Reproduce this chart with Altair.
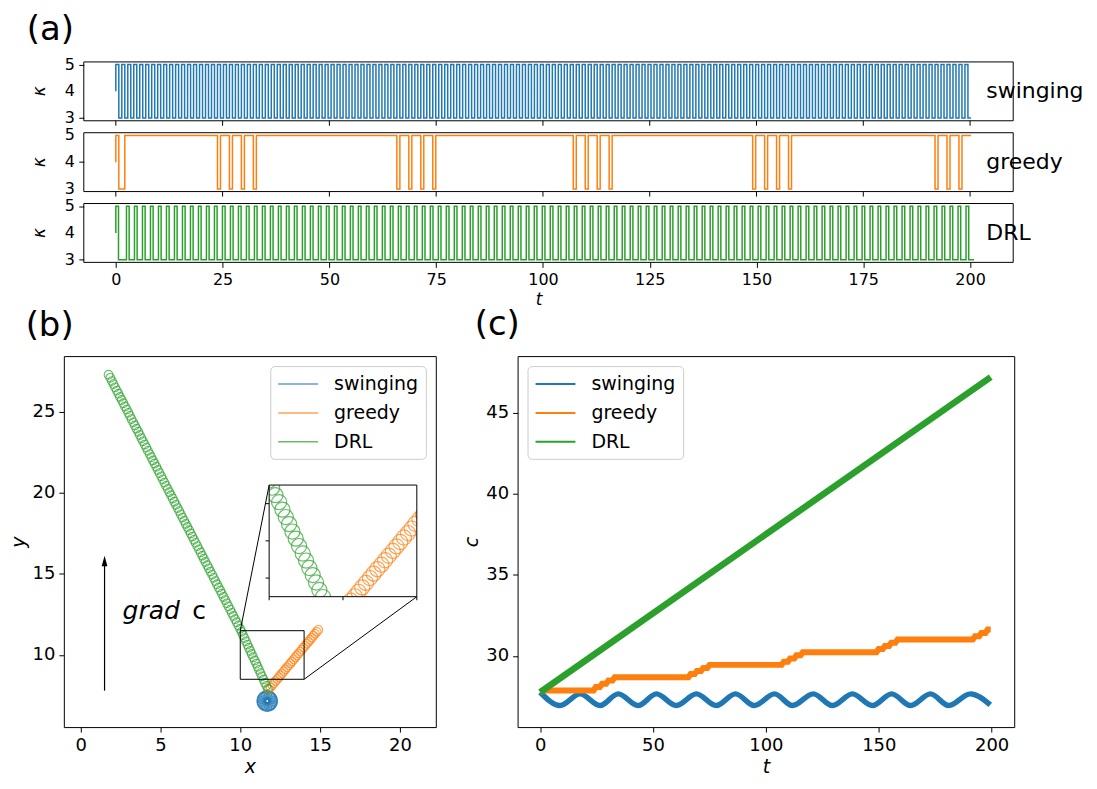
import altair as alt
import pandas as pd

FONT = "DejaVu Sans"
SERIES = ["swinging", "greedy", "DRL"]
COLORS = ["#1f77b4", "#ff7f0e", "#2ca02c"]

# ---------------- (a) kappa(t) step signals ----------------
DT_SWING = 0.7
DT_GREEDY = 0.7
DT_DRL = 0.624
swing_kappa = (
    "4"
    "5353535353535353535353"
    "5353535353535353535353"
    "5353535353535353535353"
    "5353535353535353535353"
    "5353535353535353535353"
    "5353535353535353535353"
    "5353535353535353535353"
    "5353535353535353535353"
    "5353535353535353535353"
    "5353535353535353535353"
    "5353535353535353535353"
    "5353535353535353535353"
    "5353535353535353535353"
)
greedy_runs = [(4, 1), (5, 1), (3, 2), (5, 31),
               (3, 1), (5, 3), (3, 1), (5, 3), (3, 1), (5, 3), (3, 1), (5, 47),
               (3, 1), (5, 3), (3, 1), (5, 3), (3, 1), (5, 3), (3, 1), (5, 46),
               (3, 1), (5, 3), (3, 1), (5, 3), (3, 1), (5, 3), (3, 1), (5, 47),
               (3, 1), (5, 3), (3, 1), (5, 3), (3, 1), (5, 3), (3, 1), (5, 48),
               (3, 1), (5, 3), (3, 1), (5, 3), (3, 1), (5, 3)]
drl_kappa = (
    "45333"
    "533533533533533533"
    "533533533533533533"
    "533533533533533533"
    "533533533533533533"
    "533533533533533533"
    "533533533533533533"
    "533533533533533533"
    "533533533533533533"
    "533533533533533533"
    "533533533533533533"
    "533533533533533533"
    "533533533533533533"
    "533533533533533533"
    "533533533533533533"
    "533533533533533533"
    "533533533533533533"
    "533533533533533533"
    "533533533533"
)
A_FRAME_T = [-7.5, 210.1]      # visible t-range of each (a) panel
A_T_LEFT = -12.17              # left edge of the (a) layout cell (aligned with panel b)
A_K_RANGE = [2.9, 5.1]
PANEL_STEP = 2.647             # kappa units from one (a) panel to the next (incl. gap)
A_T_TICKS = [0, 25, 50, 75, 100, 125, 150, 175, 200]
A_K_TICKS = [3, 4, 5]
A_K_LABEL_T = -9.6
A_SIDE_T = 203.8
A_KAPPA_TITLE_T = -17.7
A_LABEL = ("(a)", -15.3, 6.29)

# ---------------- (b) trajectories ----------------
swing_x = [12.06, 12.01, 11.88, 11.69, 11.50, 11.37, 11.32, 11.37, 11.50, 11.69, 11.88, 12.01,
           12.05, 11.95, 11.79, 11.59, 11.43, 11.33, 11.33, 11.43, 11.59, 11.79, 11.95, 12.05]
swing_y = [7.16, 7.35, 7.48, 7.53, 7.48, 7.35, 7.16, 6.97, 6.84, 6.79, 6.84, 6.97,
           7.26, 7.42, 7.52, 7.52, 7.42, 7.26, 7.06, 6.90, 6.80, 6.80, 6.90, 7.06]
greedy_x = [11.80, 11.90, 12.01, 12.11, 12.21, 12.32, 12.42, 12.52, 12.62, 12.73, 12.83,
            12.93, 13.04, 13.14, 13.24, 13.35, 13.45, 13.55, 13.65, 13.76, 13.86, 13.96,
            14.07, 14.17, 14.27, 14.38, 14.48, 14.58, 14.68, 14.79, 14.89]
greedy_y = [7.90, 8.02, 8.14, 8.27, 8.39, 8.51, 8.63, 8.75, 8.87, 9.00, 9.12, 9.24, 9.36,
            9.48, 9.60, 9.73, 9.85, 9.97, 10.09, 10.21, 10.33, 10.46, 10.58, 10.70, 10.82,
            10.94, 11.06, 11.19, 11.31, 11.43, 11.55]
drl_x = [11.73, 11.64, 11.55, 11.46, 11.36, 11.27, 11.18, 11.09, 11.00, 10.91,
         10.81, 10.72, 10.63, 10.54, 10.45, 10.36, 10.27, 10.17, 10.08, 9.99,
         9.88, 9.78, 9.68, 9.57, 9.47, 9.37, 9.26, 9.16, 9.06, 8.96,
         8.85, 8.75, 8.65, 8.54, 8.44, 8.34, 8.24, 8.13, 8.03, 7.93,
         7.82, 7.72, 7.62, 7.52, 7.41, 7.31, 7.21, 7.10, 7.00, 6.90,
         6.80, 6.69, 6.59, 6.49, 6.38, 6.28, 6.18, 6.08, 5.97, 5.87,
         5.77, 5.66, 5.56, 5.46, 5.35, 5.25, 5.15, 5.05, 4.94, 4.84,
         4.74, 4.63, 4.53, 4.43, 4.33, 4.22, 4.12, 4.02, 3.91, 3.81,
         3.71, 3.61, 3.50, 3.40, 3.30, 3.19, 3.09, 2.99, 2.89, 2.78,
         2.68, 2.58, 2.47, 2.37, 2.27, 2.16, 2.06, 1.96, 1.86, 1.75]
drl_y = [7.90, 8.10, 8.29, 8.49, 8.68, 8.88, 9.08, 9.27, 9.47, 9.66,
         9.86, 10.06, 10.25, 10.45, 10.64, 10.84, 11.04, 11.23, 11.43, 11.62,
         11.82, 12.02, 12.21, 12.41, 12.60, 12.80, 13.00, 13.19, 13.39, 13.58,
         13.78, 13.98, 14.17, 14.37, 14.56, 14.76, 14.96, 15.15, 15.35, 15.54,
         15.74, 15.94, 16.13, 16.33, 16.52, 16.72, 16.92, 17.11, 17.31, 17.50,
         17.70, 17.90, 18.09, 18.29, 18.48, 18.68, 18.88, 19.07, 19.27, 19.46,
         19.66, 19.86, 20.05, 20.25, 20.44, 20.64, 20.84, 21.03, 21.23, 21.42,
         21.62, 21.82, 22.01, 22.21, 22.40, 22.60, 22.80, 22.99, 23.19, 23.38,
         23.58, 23.78, 23.97, 24.17, 24.36, 24.56, 24.76, 24.95, 25.15, 25.34,
         25.54, 25.74, 25.93, 26.13, 26.32, 26.52, 26.72, 26.91, 27.11, 27.30]
B_X_DOMAIN = [-1.05, 22.25]
B_Y_DOMAIN = [5.55, 28.45]
B_X_TICKS = [0, 5, 10, 15, 20]
B_Y_TICKS = [10, 15, 20, 25]
ZOOM_X = [10.0, 14.0]          # inset data range
ZOOM_Y = [8.5, 11.5]
INSET_X = [11.81, 21.06]       # inset box, in main-plot data units
INSET_Y = [13.60, 20.49]
INSET_X_TICKS = [10, 12, 14]
INSET_Y_TICKS = [9, 10, 11]
ARROW_X = 1.5
ARROW_Y = [7.8, 15.8]
GRAD_TEXT = [("grad", 2.63, 12.71, "italic"), ("c", 7.0, 12.71, "normal")]
B_LABEL = ("(b)", -1.94, 30.3)

# ---------------- (c) c(t) ----------------
blue_t = [0.0, 8.8, 17.7, 26.5, 34.6, 43.4, 51.5, 60.3, 69.2, 78.0, 86.5, 94.9,
          103.8, 111.8, 121.0, 129.5, 138.3, 147.2, 155.7, 164.1, 172.9, 181.0, 190.6, 199.4]
blue_c = [27.75, 26.93, 27.65, 26.93, 27.65, 26.93, 27.65, 26.93, 27.65, 26.93, 27.65, 26.93,
          27.65, 26.93, 27.65, 26.93, 27.65, 26.93, 27.65, 26.93, 27.65, 26.93, 27.65, 26.97]
orange_t = [0.0, 1.5, 23.65, 24.65, 26.45, 27.45, 29.25, 30.25, 32.05, 33.05,
            65.65, 66.65, 68.45, 69.45, 71.25, 72.25, 74.05, 75.05,
            106.95, 107.95, 109.75, 110.75, 112.55, 113.55, 115.35, 116.35,
            148.95, 149.95, 151.75, 152.75, 154.55, 155.55, 157.35, 158.35,
            191.65, 192.65, 194.45, 195.45, 197.25, 198.25, 199.6]
orange_c = [27.75, 27.86, 27.86, 28.07, 28.07, 28.27, 28.27, 28.48, 28.48, 28.68,
            28.68, 28.87, 28.87, 29.06, 29.06, 29.25, 29.25, 29.44,
            29.44, 29.64, 29.64, 29.83, 29.83, 30.03, 30.03, 30.22,
            30.22, 30.42, 30.42, 30.61, 30.61, 30.81, 30.81, 31.0,
            31.0, 31.2, 31.2, 31.41, 31.41, 31.62, 31.62]
green_t = [0.0, 84.6, 199.6]
green_c = [27.75, 36.0, 47.2]
C_T_DOMAIN = [-10, 210]
C_C_DOMAIN = [25.6, 48.5]
C_T_TICKS = [0, 50, 100, 150, 200]
C_C_TICKS = [30, 35, 40, 45]
C_LABEL = ("(c)", -19.0, 50.4)

A_W = 952
A_PANEL_H = 59
A_H = round(A_PANEL_H * (A_K_RANGE[1] - A_K_RANGE[0] + 2 * PANEL_STEP) / (A_K_RANGE[1] - A_K_RANGE[0]))
B_W, B_H = 373, 372
C_W, C_H = 498, 372

color_scale = alt.Scale(domain=SERIES, range=COLORS)


def lin(domain):
    return alt.Scale(domain=domain, nice=False, zero=False)


def axis(values, title, labels=True, size=18, tsize=19, italic=True, **extra):
    kw = dict(values=values, title=title, labels=labels, tickSize=5, tickWidth=1,
              tickColor="black", labelColor="black", labelFontSize=size,
              titleFontSize=tsize, titleFontWeight="normal", titleColor="black",
              labelPadding=4, grid=False, domain=False)
    if italic:
        kw["titleFontStyle"] = "italic"
    kw.update(extra)
    return alt.Axis(**kw)


# ---------- panel (a): three stacked strips in one view ----------
ta = lin([A_T_LEFT, A_FRAME_T[1]])
ka = lin([A_K_RANGE[0], A_K_RANGE[1] + 2 * PANEL_STEP])
greedy_seq = "".join(str(v) * n for v, n in greedy_runs)
strips = [("swinging", swing_kappa, DT_SWING, COLORS[0], 2 * PANEL_STEP),
          ("greedy", greedy_seq, DT_GREEDY, COLORS[1], PANEL_STEP),
          ("DRL", drl_kappa, DT_DRL, COLORS[2], 0.0)]
k_ticks = [v + off for *_, off in strips for v in A_K_TICKS]

a_layers = []
for i, (name, seq, dt, col, off) in enumerate(strips):
    df = pd.DataFrame({"t": [j * dt for j in range(len(seq))],
                       "k": [int(ch) + off for ch in seq]})
    enc = dict(x=alt.X("t:Q", scale=ta, axis=axis(A_T_TICKS, "t", size=16, tsize=17,
                                                  labelOverlap=False)),
               y=alt.Y("k:Q", scale=ka, axis=axis(k_ticks, "", labels=False, offset=-20)))
    a_layers.append(alt.Chart(df).mark_line(interpolate="step-before", color=col,
                                            strokeWidth=1.5).encode(**enc))

frames = pd.DataFrame({"t": [A_FRAME_T[0]] * 3, "t2": [A_FRAME_T[1]] * 3,
                       "k": [A_K_RANGE[0] + s[4] for s in strips],
                       "k2": [A_K_RANGE[1] + s[4] for s in strips]})
a_layers.append(alt.Chart(frames).mark_rect(fill="transparent", stroke="black",
                                            strokeWidth=1).encode(
    x=alt.X("t:Q", scale=ta), x2="t2:Q", y=alt.Y("k:Q", scale=ka), y2="k2:Q"))
tick_len = 5 * (A_K_RANGE[1] - A_K_RANGE[0]) / A_PANEL_H
trows = [{"t": t, "k": A_K_RANGE[0] + off, "k2": A_K_RANGE[0] + off - tick_len}
         for *_, off in strips[:2] for t in A_T_TICKS]
a_layers.append(alt.Chart(pd.DataFrame(trows)).mark_rule(color="black", strokeWidth=1).encode(
    x=alt.X("t:Q", scale=ta), y=alt.Y("k:Q", scale=ka), y2="k2:Q"))
klabels = pd.DataFrame({"t": [A_K_LABEL_T] * 9,
                        "k": [v + s[4] for s in strips for v in A_K_TICKS],
                        "s": [str(v) for s in strips for v in A_K_TICKS]})
a_layers.append(alt.Chart(klabels).mark_text(align="right", baseline="middle", fontSize=16,
                                             color="black").encode(
    x=alt.X("t:Q", scale=ta), y=alt.Y("k:Q", scale=ka), text="s:N"))
side = pd.DataFrame({"t": [A_SIDE_T] * 3, "k": [4.0 + s[4] for s in strips],
                     "s": [s[0] for s in strips]})
a_layers.append(alt.Chart(side).mark_text(align="left", baseline="middle", fontSize=22,
                                          color="black").encode(
    x=alt.X("t:Q", scale=ta), y=alt.Y("k:Q", scale=ka), text="s:N"))
ktitles = pd.DataFrame({"t": [A_KAPPA_TITLE_T] * 3, "k": [4.0 + s[4] for s in strips],
                        "s": ["κ"] * 3})
a_layers.append(alt.Chart(ktitles).mark_text(align="center", baseline="middle", fontSize=17,
                                             angle=270, fontStyle="italic",
                                             color="black").encode(
    x=alt.X("t:Q", scale=ta), y=alt.Y("k:Q", scale=ka), text="s:N"))
al = pd.DataFrame({"t": [A_LABEL[1]], "k": [A_LABEL[2] + 2 * PANEL_STEP], "s": [A_LABEL[0]]})
a_layers.append(alt.Chart(al).mark_text(align="center", baseline="middle", fontSize=34,
                                        color="black").encode(
    x=alt.X("t:Q", scale=ta), y=alt.Y("k:Q", scale=ka), text="s:N"))
pa = alt.layer(*a_layers).properties(width=A_W, height=A_H,
                                     view=alt.ViewBackground(stroke="transparent"))

# ---------- panel (b) ----------
legend_common = dict(title=None, symbolType="M-1,0H3", symbolSize=400, labelOffset=35,
                     rowPadding=8, padding=7, offset=10, labelFontSize=19,
                     strokeColor="#cccccc", cornerRadius=4, fillColor="white",
                     labelColor="black")
legend_b = alt.Legend(orient="top-right", symbolStrokeWidth=1.5, **legend_common)
legend_c = alt.Legend(orient="top-left", symbolStrokeWidth=2, **legend_common)

rows = []
for s, xs_, ys_ in [("swinging", swing_x, swing_y), ("greedy", greedy_x, greedy_y),
                    ("DRL", drl_x, drl_y)]:
    for a, b in zip(xs_, ys_):
        rows.append({"x": a, "y": b, "series": s})
df_b = pd.DataFrame(rows)

sx = lin(B_X_DOMAIN)
sy = lin(B_Y_DOMAIN)
enc_x = alt.X("x:Q", scale=sx, axis=axis(B_X_TICKS, "x"))
enc_y = alt.Y("y:Q", scale=sy, axis=axis(B_Y_TICKS, "y"))

pts_main = alt.Chart(df_b).mark_point(filled=False, size=76, strokeWidth=1.1).encode(
    x=enc_x, y=enc_y, color=alt.Color("series:N", scale=color_scale, legend=legend_b))

zr = pd.DataFrame({"x": [ZOOM_X[0]], "x2": [ZOOM_X[1]], "y": [ZOOM_Y[0]], "y2": [ZOOM_Y[1]]})
zoom_rect = alt.Chart(zr).mark_rect(fill="transparent", stroke="black", strokeWidth=1).encode(
    x=alt.X("x:Q", scale=sx), x2="x2:Q", y=alt.Y("y:Q", scale=sy), y2="y2:Q")


def to_inset_x(v):
    return INSET_X[0] + (v - ZOOM_X[0]) / (ZOOM_X[1] - ZOOM_X[0]) * (INSET_X[1] - INSET_X[0])


def to_inset_y(v):
    return INSET_Y[0] + (v - ZOOM_Y[0]) / (ZOOM_Y[1] - ZOOM_Y[0]) * (INSET_Y[1] - INSET_Y[0])


margin = 0.2
df_in = df_b[(df_b.x > ZOOM_X[0] - margin) & (df_b.x < ZOOM_X[1] + margin) &
             (df_b.y > ZOOM_Y[0] - margin) & (df_b.y < ZOOM_Y[1] + margin)].copy()
df_in["x"] = df_in["x"].map(to_inset_x)
df_in["y"] = df_in["y"].map(to_inset_y)

ib = pd.DataFrame({"x": [INSET_X[0]], "x2": [INSET_X[1]], "y": [INSET_Y[0]], "y2": [INSET_Y[1]]})
inset_bg = alt.Chart(ib).mark_rect(fill="white").encode(
    x=alt.X("x:Q", scale=sx), x2="x2:Q", y=alt.Y("y:Q", scale=sy), y2="y2:Q")
pts_inset = alt.Chart(df_in).mark_point(filled=False, size=230, strokeWidth=1.2).encode(
    x=alt.X("x:Q", scale=sx), y=alt.Y("y:Q", scale=sy),
    color=alt.Color("series:N", scale=color_scale, legend=legend_b))
mx, my = 1.0, 1.0
masks = pd.DataFrame({
    "x": [INSET_X[0] - mx, INSET_X[1], INSET_X[0] - mx, INSET_X[0] - mx],
    "x2": [INSET_X[0], INSET_X[1] + mx, INSET_X[1] + mx, INSET_X[1] + mx],
    "y": [INSET_Y[0] - my, INSET_Y[0] - my, INSET_Y[1], INSET_Y[0] - my],
    "y2": [INSET_Y[1] + my, INSET_Y[1] + my, INSET_Y[1] + my, INSET_Y[0]],
})
mask_layer = alt.Chart(masks).mark_rect(fill="white").encode(
    x=alt.X("x:Q", scale=sx), x2="x2:Q", y=alt.Y("y:Q", scale=sy), y2="y2:Q")
inset_frame = alt.Chart(ib).mark_rect(fill="transparent", stroke="black", strokeWidth=1).encode(
    x=alt.X("x:Q", scale=sx), x2="x2:Q", y=alt.Y("y:Q", scale=sy), y2="y2:Q")
tk = 0.22
tick_rows = []
for v in INSET_X_TICKS:
    X = to_inset_x(v)
    tick_rows.append({"x": X, "x2": X, "y": INSET_Y[0], "y2": INSET_Y[0] - tk})
for v in INSET_Y_TICKS:
    Y = to_inset_y(v)
    tick_rows.append({"x": INSET_X[0], "x2": INSET_X[0] - tk, "y": Y, "y2": Y})
tick_rows.append({"x": ZOOM_X[0], "x2": INSET_X[0], "y": ZOOM_Y[1], "y2": INSET_Y[1]})
tick_rows.append({"x": ZOOM_X[1], "x2": INSET_X[1], "y": ZOOM_Y[0], "y2": INSET_Y[0]})
rules = alt.Chart(pd.DataFrame(tick_rows)).mark_rule(color="black", strokeWidth=1).encode(
    x=alt.X("x:Q", scale=sx), x2="x2:Q", y=alt.Y("y:Q", scale=sy), y2="y2:Q")

arr = pd.DataFrame({"x": [ARROW_X], "y": [ARROW_Y[0]], "y2": [ARROW_Y[1]]})
arrow_line = alt.Chart(arr).mark_rule(color="black", strokeWidth=1.2).encode(
    x=alt.X("x:Q", scale=sx), y=alt.Y("y:Q", scale=sy), y2="y2:Q")
head = pd.DataFrame({"x": [ARROW_X], "y": [ARROW_Y[1]]})
arrow_head = alt.Chart(head).mark_point(shape="M0,-1L0.55,1L-0.55,1Z", size=110, filled=True,
                                        color="black", opacity=1).encode(
    x=alt.X("x:Q", scale=sx), y=alt.Y("y:Q", scale=sy))
grad_layers = []
for txt, gx, gy, style in GRAD_TEXT:
    g = pd.DataFrame({"x": [gx], "y": [gy], "s": [txt]})
    grad_layers.append(alt.Chart(g).mark_text(align="left", baseline="middle", fontSize=25,
                                              fontStyle=style, color="black").encode(
        x=alt.X("x:Q", scale=sx), y=alt.Y("y:Q", scale=sy), text="s:N"))
bl = pd.DataFrame({"x": [B_LABEL[1]], "y": [B_LABEL[2]], "s": [B_LABEL[0]]})
b_label = alt.Chart(bl).mark_text(align="center", baseline="middle", fontSize=34,
                                  color="black").encode(
    x=alt.X("x:Q", scale=sx), y=alt.Y("y:Q", scale=sy), text="s:N")

pb = alt.layer(pts_main, zoom_rect, inset_bg, pts_inset, mask_layer, inset_frame, rules,
               arrow_line, arrow_head, *grad_layers, b_label).properties(width=B_W, height=B_H)

# ---------- panel (c) ----------
st = lin(C_T_DOMAIN)
sc = lin(C_C_DOMAIN)
c_layers = []
for s, ts, cs, w, interp in [("swinging", blue_t, blue_c, 5.5, "monotone"),
                             ("greedy", orange_t, orange_c, 6, "linear"),
                             ("DRL", green_t, green_c, 6.5, "linear")]:
    d = pd.DataFrame({"t": ts, "c": cs, "series": [s] * len(ts)})
    c_layers.append(alt.Chart(d).mark_line(strokeWidth=w, interpolate=interp).encode(
        x=alt.X("t:Q", scale=st, axis=axis(C_T_TICKS, "t")),
        y=alt.Y("c:Q", scale=sc, axis=axis(C_C_TICKS, "c")),
        color=alt.Color("series:N", scale=color_scale, legend=legend_c)))
cl = pd.DataFrame({"t": [C_LABEL[1]], "c": [C_LABEL[2]], "s": [C_LABEL[0]]})
c_layers.append(alt.Chart(cl).mark_text(align="center", baseline="middle", fontSize=34,
                                        color="black").encode(
    x=alt.X("t:Q", scale=st), y=alt.Y("c:Q", scale=sc), text="s:N"))
pc = alt.layer(*c_layers).properties(width=C_W, height=C_H)

# ---------- layout ----------
bottom_row = alt.hconcat(pb, pc, spacing=82, bounds="flush").resolve_scale(
    color="independent").resolve_legend(color="independent")

chart = alt.vconcat(pa, bottom_row, spacing=94, bounds="flush").properties(
    padding={"left": 0, "top": 3, "right": 4, "bottom": 4}
).configure(font=FONT).configure_view(stroke="black", strokeWidth=1)

chart.save("out.html", embed_options={"renderer": "svg", "actions": False})
